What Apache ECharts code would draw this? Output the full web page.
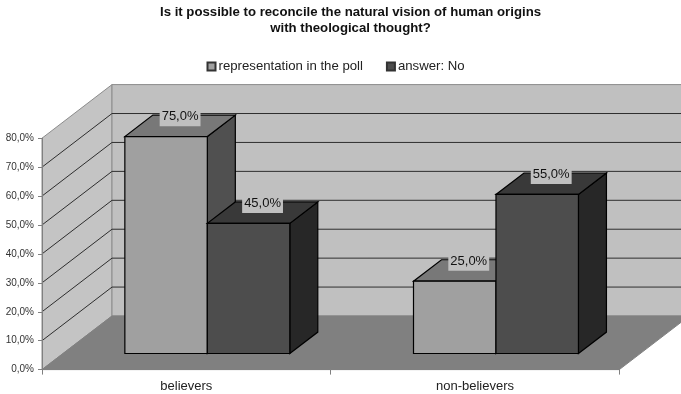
<!DOCTYPE html>
<html>
<head>
<meta charset="utf-8">
<style>html,body{margin:0;padding:0;background:#fff}#chart{width:681px;height:394px}</style>
<script src="https://cdn.jsdelivr.net/npm/echarts@6/dist/echarts.min.js"></script>
</head>
<body>
<div id="chart"></div>
<script>
// Survey figures, in percent
const categories = ['believers', 'non-believers'];
const representationValues = [75, 25];
const answerNoValues = [45, 55];
const gridValues = [0, 10, 20, 30, 40, 50, 60, 70, 80];

// Oblique projection of the floor depth, in pixels
const DEPTH_X = 70;
const DEPTH_Y = 53.6;
// Bars stand between these fractions of the floor depth
const BAR_NEAR = 0.3;
const BAR_FAR = 0.7;
// Two bars plus a 150% gap fill one category band
const BAR_BAND_SHARE = 2 / 3.5;

const percentText = v => v.toFixed(1).replace('.', ',') + '%';

const poly = (points, fill, stroke, lineWidth) => ({
  type: 'polygon',
  shape: { points },
  style: { fill, stroke, lineWidth }
});

// Back wall, side wall, floor and the gridlines running across the walls
function renderWalls(params, api) {
  const rect = params.coordSys;
  const left = rect.x, right = rect.x + rect.width;
  const bottom = rect.y + rect.height, top = rect.y;
  const children = [
    poly([[left, bottom], [left + DEPTH_X, bottom - DEPTH_Y], [left + DEPTH_X, top - DEPTH_Y], [left, top]], '#c4c4c4', '#8c8c8c', 1),
    poly([[left + DEPTH_X, top - DEPTH_Y], [right + DEPTH_X, top - DEPTH_Y], [right + DEPTH_X, bottom - DEPTH_Y], [left + DEPTH_X, bottom - DEPTH_Y]], '#c0c0c0', '#8c8c8c', 1),
    poly([[left, bottom], [right, bottom], [right + DEPTH_X, bottom - DEPTH_Y], [left + DEPTH_X, bottom - DEPTH_Y]], '#808080', '#808080', 1)
  ];
  gridValues.slice(1, -1).forEach(v => {
    const y = api.coord([0, v])[1];
    const line = (x1, y1, x2, y2) => ({
      type: 'line',
      shape: { x1, y1, x2, y2 },
      style: { stroke: '#2e2e2e', lineWidth: 1 }
    });
    children.push(line(left, y, left + DEPTH_X, y - DEPTH_Y));
    children.push(line(left + DEPTH_X, y - DEPTH_Y, right + DEPTH_X, y - DEPTH_Y));
  });
  return { type: 'group', children };
}

// One extruded bar with its value tag; slot 0 sits left of the band centre, slot 1 right of it
function barRenderer(slot, colors) {
  return function (params, api) {
    const value = api.value(1);
    const base = api.coord([api.value(0), 0]);
    const head = api.coord([api.value(0), value]);
    const width = api.size([1, 0])[0] * BAR_BAND_SHARE / 2;
    const shiftX = DEPTH_X * BAR_NEAR, shiftY = DEPTH_Y * BAR_NEAR;
    const runX = DEPTH_X * (BAR_FAR - BAR_NEAR), runY = DEPTH_Y * (BAR_FAR - BAR_NEAR);
    const x0 = base[0] + (slot - 1) * width + shiftX;
    const x1 = x0 + width;
    const yb = base[1] - shiftY;
    const yt = head[1] - shiftY;
    const edge = '#000000', lw = 1.2;
    return {
      type: 'group',
      children: [
        poly([[x1, yb], [x1 + runX, yb - runY], [x1 + runX, yt - runY], [x1, yt]], colors.side, edge, lw),
        poly([[x0, yt], [x1, yt], [x1 + runX, yt - runY], [x0 + runX, yt - runY]], colors.top, edge, lw),
        poly([[x0, yb], [x1, yb], [x1, yt], [x0, yt]], colors.front, edge, lw),
        {
          type: 'text',
          z2: 10,
          style: {
            text: percentText(value),
            x: x0 + width / 2 + runX / 2,
            y: yt - runY - 5,
            align: 'center',
            verticalAlign: 'top',
            fill: '#111111',
            font: '13px "Liberation Sans", Arial, sans-serif',
            backgroundColor: '#c0c0c0',
            padding: [0, 2, 3, 2]
          }
        }
      ]
    };
  };
}

const chart = echarts.init(document.getElementById('chart'), null, { renderer: 'canvas' });

chart.setOption({
  animation: false,
  backgroundColor: '#ffffff',
  title: {
    text: 'Is it possible to reconcile the natural vision of human origins\nwith theological thought?',
    left: 345.5,
    top: -1,
    textAlign: 'center',
    textStyle: {
      fontFamily: '"Liberation Sans", Arial, sans-serif',
      fontWeight: 'bold',
      fontSize: 13.2,
      lineHeight: 16.3,
      color: '#111111'
    }
  },
  legend: {
    left: 201.5,
    top: 55,
    itemWidth: 8,
    itemHeight: 8,
    itemGap: 23,
    icon: 'rect',
    data: ['representation in the poll', 'answer: No'],
    textStyle: {
      fontFamily: '"Liberation Sans", Arial, sans-serif',
      fontSize: 13.2,
      color: '#222222',
      padding: [0, 0, 0, -2]
    }
  },
  grid: { left: 42, right: 61.7, top: 138.2, bottom: 24.4, containLabel: false },
  xAxis: {
    type: 'category',
    data: categories,
    z: 1,
    boundaryGap: true,
    axisLine: { show: true, lineStyle: { color: '#808080', width: 1 } },
    axisTick: { show: true, alignWithLabel: false, length: 5, lineStyle: { color: '#808080' } },
    axisLabel: {
      margin: 10,
      fontFamily: '"Liberation Sans", Arial, sans-serif',
      fontSize: 13,
      color: '#222222'
    }
  },
  yAxis: {
    type: 'value',
    min: 0,
    max: 80,
    interval: 10,
    z: 1,
    splitLine: { show: false },
    axisLine: { show: true, lineStyle: { color: '#808080', width: 1 } },
    axisTick: { show: true, length: 4, lineStyle: { color: '#808080' } },
    axisLabel: {
      margin: 8,
      padding: [4, 0, 0, 0],
      fontFamily: '"Liberation Sans", Arial, sans-serif',
      fontSize: 10,
      color: '#333333',
      formatter: v => percentText(v)
    }
  },
  series: [
    {
      type: 'custom',
      name: 'walls',
      z: 0,
      silent: true,
      renderItem: renderWalls,
      encode: { x: 0, y: 1 },
      data: [[0, 0]]
    },
    {
      type: 'custom',
      name: 'representation in the poll',
      z: 2,
      itemStyle: { color: '#a0a0a0', borderColor: '#333333', borderWidth: 1 },
      renderItem: barRenderer(0, { front: '#a0a0a0', top: '#787878', side: '#505050' }),
      encode: { x: 0, y: 1 },
      data: representationValues.map((v, i) => [i, v])
    },
    {
      type: 'custom',
      name: 'answer: No',
      z: 3,
      itemStyle: { color: '#4d4d4d', borderColor: '#333333', borderWidth: 1 },
      renderItem: barRenderer(1, { front: '#4d4d4d', top: '#393939', side: '#272727' }),
      encode: { x: 0, y: 1 },
      data: answerNoValues.map((v, i) => [i, v])
    }
  ]
});
</script>
</body>
</html>
